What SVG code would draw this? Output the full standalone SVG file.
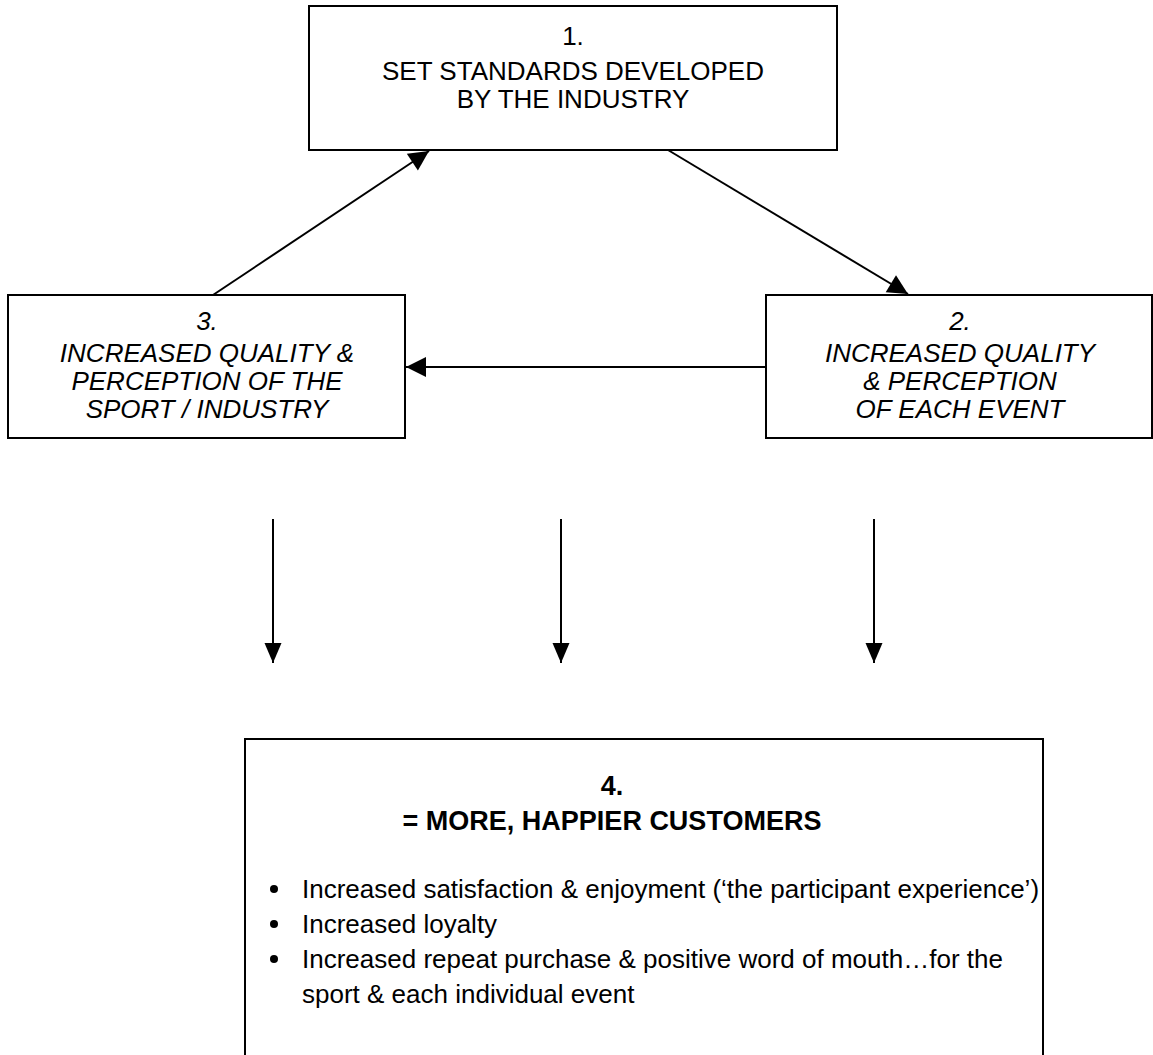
<svg xmlns="http://www.w3.org/2000/svg" width="1153" height="1055" viewBox="0 0 1153 1055">
<defs>
<style>
.box{fill:#fff;stroke:#000;stroke-width:2}
.t{font-family:"Liberation Sans",Arial,sans-serif;font-size:26px;fill:#000;text-anchor:middle}
.i{font-style:italic}
.b{font-weight:bold;font-size:27px}
.l{font-family:"Liberation Sans",Arial,sans-serif;font-size:26px;fill:#000}
.c{stroke:#000;stroke-width:2;fill:none}
</style>
<marker id="ah" markerUnits="userSpaceOnUse" markerWidth="22" markerHeight="22" viewBox="0 0 22 22" refX="21" refY="11" orient="auto"><path d="M1,1 L21,11 L1,21 z" fill="#000"/></marker>
<marker id="av" markerUnits="userSpaceOnUse" markerWidth="22" markerHeight="20" viewBox="0 0 22 20" refX="21" refY="10" orient="auto"><path d="M1,1.5 L21,10 L1,18.5 z" fill="#000"/></marker>
</defs>
<g id="connectors">
<line class="c" x1="213" y1="295" x2="429" y2="151" marker-end="url(#ah)"/>
<line class="c" x1="668" y1="150" x2="908" y2="294" marker-end="url(#ah)"/>
<line class="c" x1="766" y1="367" x2="406" y2="367" marker-end="url(#ah)"/>
<line class="c" x1="273" y1="519" x2="273" y2="663" marker-end="url(#av)"/>
<line class="c" x1="561" y1="519" x2="561" y2="663" marker-end="url(#av)"/>
<line class="c" x1="874" y1="519" x2="874" y2="663" marker-end="url(#av)"/>
</g>
<g id="node1">
<rect class="box" x="309" y="6" width="528" height="144"/>
<text class="t" x="573" y="45">1.</text>
<text class="t" x="573" y="80">SET STANDARDS DEVELOPED</text>
<text class="t" x="573" y="108">BY THE INDUSTRY</text>
</g>
<g id="node3">
<rect class="box" x="8" y="295" width="397" height="143"/>
<text class="t i" x="207" y="330">3.</text>
<text class="t i" x="207" y="362">INCREASED QUALITY &amp;</text>
<text class="t i" x="207" y="390">PERCEPTION OF THE</text>
<text class="t i" x="207" y="418">SPORT / INDUSTRY</text>
</g>
<g id="node2">
<rect class="box" x="766" y="295" width="386" height="143"/>
<text class="t i" x="960" y="330">2.</text>
<text class="t i" x="960" y="362">INCREASED QUALITY</text>
<text class="t i" x="960" y="390">&amp; PERCEPTION</text>
<text class="t i" x="960" y="418">OF EACH EVENT</text>
</g>
<g id="node4">
<rect class="box" x="245" y="739" width="798" height="330"/>
<text class="t b" x="612" y="795">4.</text>
<text class="t b" x="612" y="830">= MORE, HAPPIER CUSTOMERS</text>
<circle cx="274" cy="889" r="4"/>
<circle cx="274" cy="924" r="4"/>
<circle cx="274" cy="959" r="4"/>
<text class="l" x="302" y="898">Increased satisfaction &amp; enjoyment (‘the participant experience’)</text>
<text class="l" x="302" y="933">Increased loyalty</text>
<text class="l" x="302" y="968">Increased repeat purchase &amp; positive word of mouth…for the</text>
<text class="l" x="302" y="1003">sport &amp; each individual event</text>
</g>
</svg>
